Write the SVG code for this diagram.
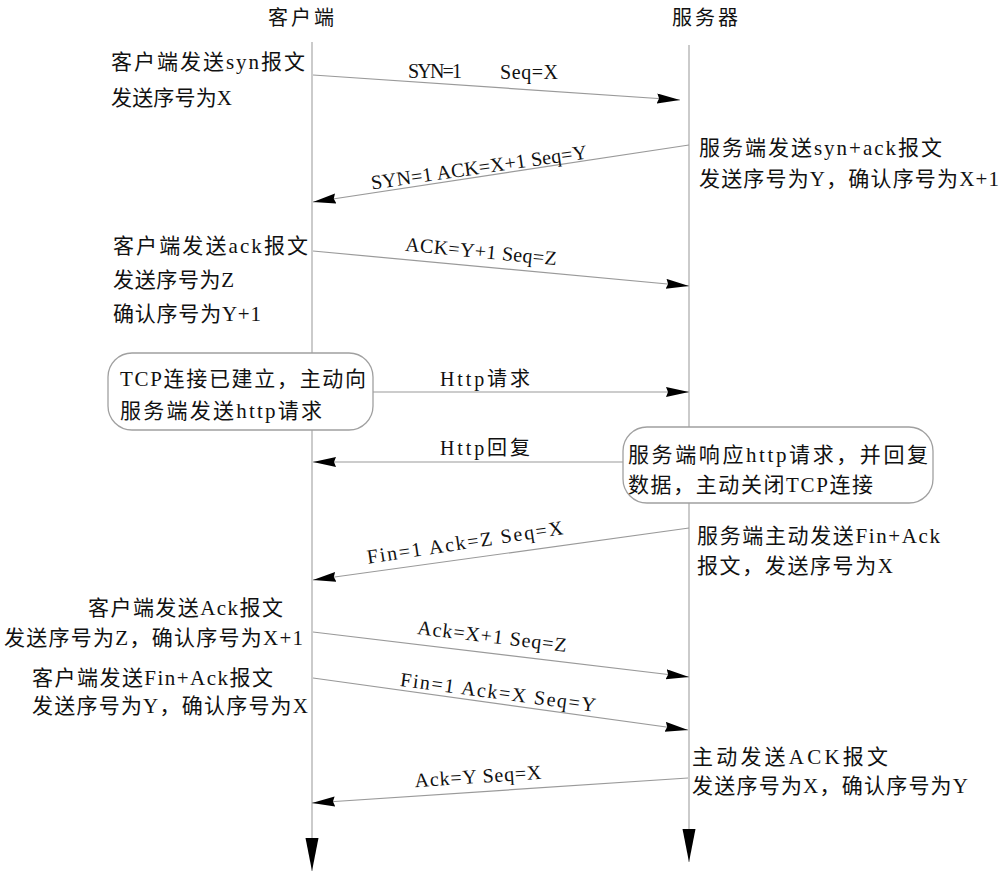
<svg xmlns="http://www.w3.org/2000/svg" width="1000" height="873" viewBox="0 0 1000 873">
<defs>
<style>
text{font-family:"Liberation Serif","Noto Sans CJK SC",serif;font-size:21px;fill:#111;}
.lbl{font-size:20px;}
.ttl{font-size:20px;}
.mid{text-anchor:middle;}
.msg{stroke:#9a9a9a;stroke-width:1.2;fill:none;marker-end:url(#ah);}
.life{stroke:#a8a8a8;stroke-width:1.2;fill:none;marker-end:url(#lh);}
.box{fill:#fff;stroke:#a0a0a0;stroke-width:1.3;}
</style>
<marker id="ah" markerUnits="userSpaceOnUse" markerWidth="24" markerHeight="12" refX="23" refY="5" orient="auto">
<path d="M0,0 L23,5 L0,10 L2,5 z" fill="#000"/>
</marker>
<marker id="lh" markerUnits="userSpaceOnUse" markerWidth="34" markerHeight="14" refX="33" refY="6.5" orient="auto">
<path d="M0,0 L33,6.5 L0,13 z" fill="#000"/>
</marker>
</defs>
<rect width="1000" height="873" fill="#fff"/>

<g id="lifelines">
<line class="life" x1="312" y1="42" x2="312" y2="871"/>
<line class="life" x1="689" y1="45" x2="689" y2="862"/>
</g>

<g id="client-title"><text class="ttl" x="268" y="25" textLength="66" lengthAdjust="spacing">客户端</text></g>
<g id="server-title"><text class="ttl" x="672" y="25" textLength="66" lengthAdjust="spacing">服务器</text></g>

<g id="connectors">
<line class="msg" x1="313" y1="75" x2="680" y2="100"/>
<line class="msg" x1="689" y1="145" x2="313" y2="202"/>
<line class="msg" x1="313" y1="251" x2="689" y2="286"/>
<line class="msg" x1="373" y1="392" x2="689" y2="392"/>
<line class="msg" x1="623" y1="462" x2="313" y2="462"/>
<line class="msg" x1="689" y1="528" x2="313" y2="580"/>
<line class="msg" x1="313" y1="632" x2="689" y2="677"/>
<line class="msg" x1="313" y1="678" x2="688" y2="730"/>
<line class="msg" x1="688" y1="778" x2="312" y2="803"/>
</g>

<g id="connector-labels">
<text class="lbl" x="408" y="78" textLength="54" lengthAdjust="spacing">SYN=1</text>
<text class="lbl" x="500" y="79" textLength="58" lengthAdjust="spacing">Seq=X</text>
<text class="lbl mid" x="479" y="174" transform="rotate(-8.2 479 168)" textLength="218" lengthAdjust="spacing">SYN=1  ACK=X+1  Seq=Y</text>
<text class="lbl mid" x="481" y="258" transform="rotate(5.5 481 252)" textLength="152" lengthAdjust="spacing">ACK=Y+1  Seq=Z</text>
<text class="lbl" x="440" y="386" textLength="90" lengthAdjust="spacing">Http请求</text>
<text class="lbl" x="440" y="455" textLength="90" lengthAdjust="spacing">Http回复</text>
<text class="lbl mid" x="465" y="549" transform="rotate(-8.6 465 543)" textLength="198" lengthAdjust="spacing">Fin=1  Ack=Z  Seq=X</text>
<text class="lbl mid" x="492" y="643" transform="rotate(6.8 492 637)" textLength="150" lengthAdjust="spacing">Ack=X+1  Seq=Z</text>
<text class="lbl mid" x="498" y="699" transform="rotate(7.6 498 693)" textLength="197" lengthAdjust="spacing">Fin=1  Ack=X  Seq=Y</text>
<text class="lbl mid" x="478" y="783" transform="rotate(-3.8 478 777)" textLength="127" lengthAdjust="spacing">Ack=Y  Seq=X</text>
</g>

<g id="note-client-syn">
<text x="111" y="69" textLength="194" lengthAdjust="spacing">客户端发送syn报文</text>
<text x="111" y="105" textLength="121" lengthAdjust="spacing">发送序号为X</text>
</g>
<g id="note-server-synack">
<text x="699" y="155" textLength="243" lengthAdjust="spacing">服务端发送syn+ack报文</text>
<text x="699" y="186" textLength="300" lengthAdjust="spacing">发送序号为Y，确认序号为X+1</text>
</g>
<g id="note-client-ack">
<text x="113" y="253" textLength="195" lengthAdjust="spacing">客户端发送ack报文</text>
<text x="113" y="287" textLength="121" lengthAdjust="spacing">发送序号为Z</text>
<text x="113" y="321" textLength="148" lengthAdjust="spacing">确认序号为Y+1</text>
</g>
<g id="box-client-http">
<rect class="box" x="108" y="353" width="265" height="77" rx="24"/>
<text x="120" y="386" textLength="246" lengthAdjust="spacing">TCP连接已建立，主动向</text>
<text x="120" y="418" textLength="202" lengthAdjust="spacing">服务端发送http请求</text>
</g>
<g id="box-server-http">
<rect class="box" x="623" y="427" width="310" height="76" rx="24"/>
<text x="628" y="462" textLength="300" lengthAdjust="spacing">服务端响应http请求，并回复</text>
<text x="628" y="492" textLength="245" lengthAdjust="spacing">数据，主动关闭TCP连接</text>
</g>
<g id="note-server-fin">
<text x="697" y="543" textLength="243" lengthAdjust="spacing">服务端主动发送Fin+Ack</text>
<text x="697" y="573" textLength="196" lengthAdjust="spacing">报文，发送序号为X</text>
</g>
<g id="note-client-ack2">
<text x="88" y="615" textLength="195" lengthAdjust="spacing">客户端发送Ack报文</text>
<text x="4" y="645" textLength="299" lengthAdjust="spacing">发送序号为Z，确认序号为X+1</text>
</g>
<g id="note-client-fin">
<text x="32" y="685" textLength="241" lengthAdjust="spacing">客户端发送Fin+Ack报文</text>
<text x="32" y="713" textLength="276" lengthAdjust="spacing">发送序号为Y，确认序号为X</text>
</g>
<g id="note-server-ack">
<text x="692" y="764" textLength="196" lengthAdjust="spacing">主动发送ACK报文</text>
<text x="692" y="793" textLength="276" lengthAdjust="spacing">发送序号为X，确认序号为Y</text>
</g>
</svg>
